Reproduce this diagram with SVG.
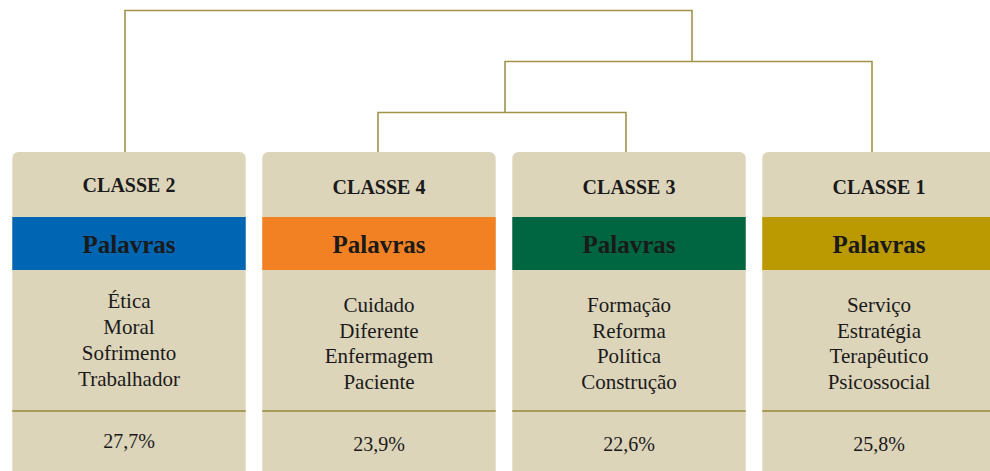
<svg xmlns="http://www.w3.org/2000/svg" width="990" height="471" viewBox="0 0 990 471">
<style>
.card{fill:#ddd5ba}
.div{stroke:#a99b57;stroke-width:2;fill:none}
.con{stroke:#a3934a;stroke-width:1.6;fill:none}
text{font-family:"Liberation Serif","Times New Roman",serif;fill:#1a1a1a;text-anchor:middle}
.t{font-size:20px;font-weight:bold}
.p{font-size:25px;font-weight:bold}
.w{font-size:21px}
.n{font-size:20px}
</style>
<rect width="990" height="471" fill="#ffffff"/>
<g id="connectors">
<polyline class="con" points="125,152 125,10.5 692,10.5 692,61.5"/>
<polyline class="con" points="505,112.5 505,61.5 872,61.5 872,152"/>
<polyline class="con" points="378,152 378,112.5 626,112.5 626,152"/>
</g>
<g id="classe2">
<rect class="card" x="12.3" y="152" width="233.4" height="330" rx="6"/>
<rect x="12.3" y="217" width="233.4" height="53" fill="#0066b3"/>
<line class="div" x1="12.3" y1="411" x2="245.7" y2="411"/>
<text class="t" x="129" y="191.5">CLASSE 2</text>
<text class="p" x="129" y="253">Palavras</text>
<text class="w" x="129" y="308">Ética</text>
<text class="w" x="129" y="334">Moral</text>
<text class="w" x="129" y="360">Sofrimento</text>
<text class="w" x="129" y="385.5">Trabalhador</text>
<text class="n" x="129" y="448">27,7%</text>
</g>
<g id="classe4">
<rect class="card" x="262.3" y="152" width="233.4" height="330" rx="6"/>
<rect x="262.3" y="217" width="233.4" height="53" fill="#f28123"/>
<line class="div" x1="262.3" y1="411" x2="495.7" y2="411"/>
<text class="t" x="379" y="194">CLASSE 4</text>
<text class="p" x="379" y="253">Palavras</text>
<text class="w" x="379" y="312">Cuidado</text>
<text class="w" x="379" y="338">Diferente</text>
<text class="w" x="379" y="363">Enfermagem</text>
<text class="w" x="379" y="388.5">Paciente</text>
<text class="n" x="379" y="451">23,9%</text>
</g>
<g id="classe3">
<rect class="card" x="512.3" y="152" width="233.4" height="330" rx="6"/>
<rect x="512.3" y="217" width="233.4" height="53" fill="#006642"/>
<line class="div" x1="512.3" y1="411" x2="745.7" y2="411"/>
<text class="t" x="629" y="194">CLASSE 3</text>
<text class="p" x="629" y="253">Palavras</text>
<text class="w" x="629" y="312">Formação</text>
<text class="w" x="629" y="338">Reforma</text>
<text class="w" x="629" y="363">Política</text>
<text class="w" x="629" y="388.5">Construção</text>
<text class="n" x="629" y="451">22,6%</text>
</g>
<g id="classe1">
<rect class="card" x="762.3" y="152" width="240" height="330" rx="6"/>
<rect x="762.3" y="217" width="240" height="53" fill="#bb9900"/>
<line class="div" x1="762.3" y1="411" x2="990" y2="411"/>
<text class="t" x="879" y="194">CLASSE 1</text>
<text class="p" x="879" y="253">Palavras</text>
<text class="w" x="879" y="312">Serviço</text>
<text class="w" x="879" y="338">Estratégia</text>
<text class="w" x="879" y="363">Terapêutico</text>
<text class="w" x="879" y="388.5">Psicossocial</text>
<text class="n" x="879" y="451">25,8%</text>
</g>
</svg>
